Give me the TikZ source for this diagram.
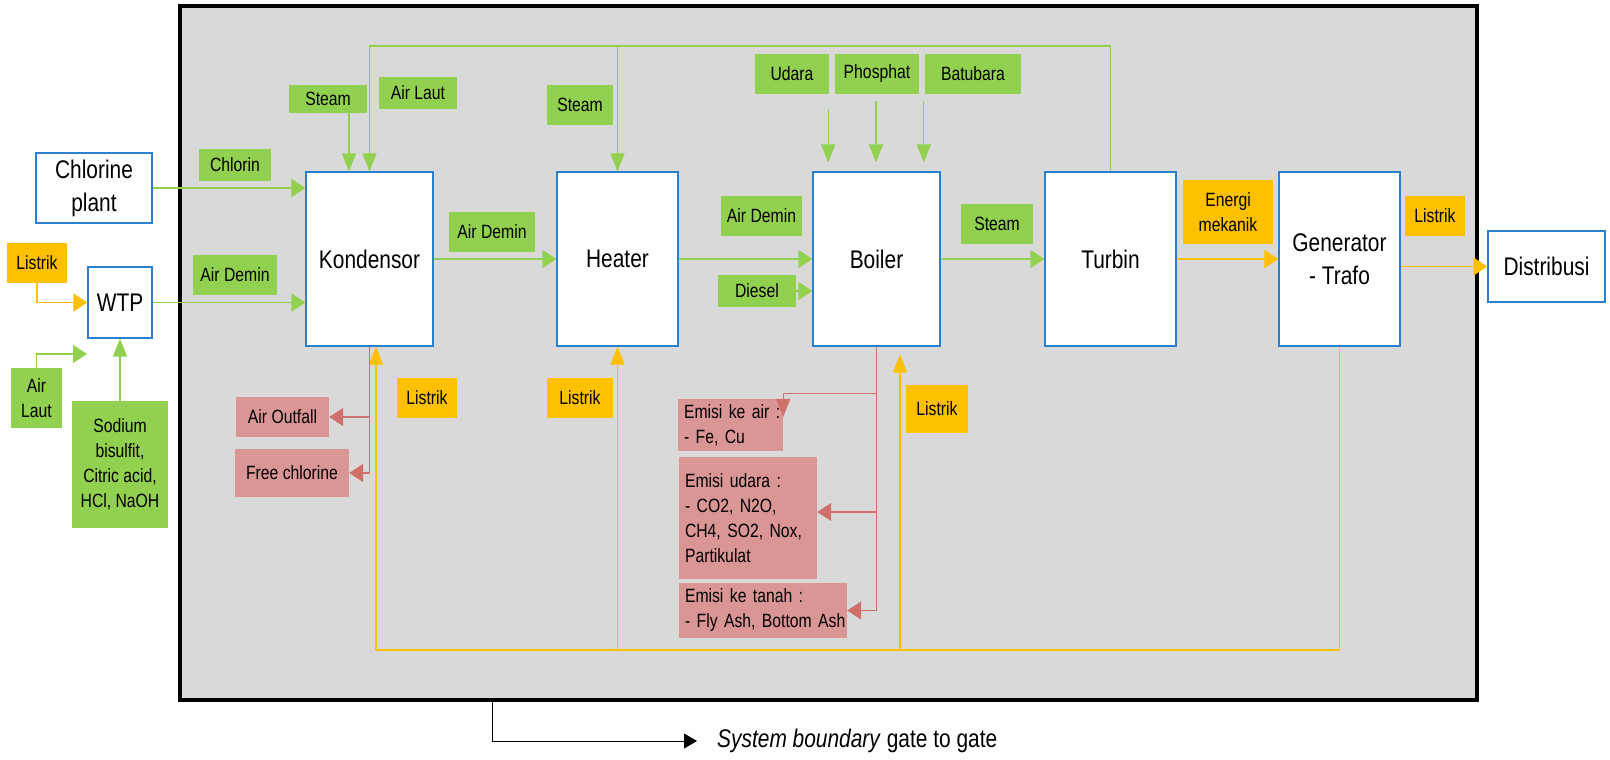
\documentclass[tikz,border=0pt]{standalone}
\usepackage{fontspec}
\setmainfont{Liberation Sans}[FakeStretch=0.82]
\usetikzlibrary{arrows.meta,calc}
\definecolor{gfill}{HTML}{92D050}
\definecolor{ofill}{HTML}{FFC000}
\definecolor{rfill}{HTML}{DA9694}
\definecolor{rline}{HTML}{D0706A}
\definecolor{bblue}{HTML}{2A80CC}
\definecolor{bgray}{HTML}{D9D9D9}
\begin{document}
\begin{tikzpicture}[x=1pt,y=-1pt,
  big/.style={font=\fontsize{25.5}{33}\selectfont},
  small/.style={font=\fontsize{19.2}{25}\selectfont},
  proc/.style={draw=bblue, fill=white, line width=1.2pt, inner sep=0pt, align=center, big},
  glab/.style={fill=gfill, inner sep=0pt, align=center, small},
  olab/.style={fill=ofill, inner sep=0pt, align=center, small},
  rlab/.style={fill=rfill, inner sep=0pt, align=center, small},
  elab/.style={fill=rfill, inner ysep=0pt, inner xsep=6pt, align=left, small},
  gl/.style={draw=gfill, line width=1.3pt},
  yl/.style={draw=ofill, line width=1.3pt},
  rl/.style={draw=rline, line width=1.3pt},
  harr/.style={-{Triangle[length=14pt,width=18pt]}},
  varr/.style={-{Triangle[length=18pt,width=14pt]}}
]
\useasboundingbox (0,0) rectangle (1610,760);
% system boundary
\draw[line width=3.5pt, fill=bgray] (180,6) rectangle (1477,700);

% process boxes
\node[proc, minimum width=116pt, minimum height=70pt] (chlor) at (94,188) {Chlorine\\plant};
\node[proc, minimum width=64pt, minimum height=71pt] (wtp) at (120,302.5) {WTP};
\node[proc, minimum width=127pt, minimum height=174pt] (kond) at (369.5,259) {Kondensor};
\node[proc, minimum width=121pt, minimum height=174pt] (heater) at (617.5,259) {Heater};
\node[proc, minimum width=127pt, minimum height=174pt] (boiler) at (876.5,259) {Boiler};
\node[proc, minimum width=131pt, minimum height=174pt] (turbin) at (1110.5,259) {Turbin};
\node[proc, minimum width=121pt, minimum height=174pt] (gen) at (1339.5,259) {Generator\\- Trafo};
\node[proc, minimum width=117pt, minimum height=71pt] (distribusi) at (1546.5,266.5) {Distribusi};

% green labels
\node[glab, minimum width=51pt, minimum height=60pt] (airlautL) at (36.5,398) {Air\\Laut};
\node[glab, minimum width=96pt, minimum height=127pt] (sodium) at (120,464.5) {Sodium\\bisulfit,\\Citric acid,\\HCl, NaOH};
\node[glab, minimum width=72pt, minimum height=32pt] (chlorin) at (235,165) {Chlorin};
\node[glab, minimum width=84pt, minimum height=40pt] (airdeminL) at (235,275) {Air Demin};
\node[glab, minimum width=78pt, minimum height=28pt] (steamK) at (328,99) {Steam};
\node[glab, minimum width=78pt, minimum height=32pt] (airlautT) at (418,93) {Air Laut};
\node[glab, minimum width=86pt, minimum height=40pt] (airdemin2) at (492,232) {Air Demin};
\node[glab, minimum width=66pt, minimum height=40pt] (steamH) at (580,105) {Steam};
\node[glab, minimum width=81pt, minimum height=40pt] (airdemin3) at (761.5,216) {Air Demin};
\node[glab, minimum width=78pt, minimum height=32pt] (diesel) at (757,291) {Diesel};
\node[glab, minimum width=74pt, minimum height=40pt] (udara) at (792,74) {Udara};
\node[glab, minimum width=84pt, minimum height=40pt] (phosphat) at (877,74) {Phosphat};
\node[glab, minimum width=96pt, minimum height=40pt] (batubara) at (973,74) {Batubara};
\node[glab, minimum width=72pt, minimum height=40pt] (steamB) at (997,224) {Steam};

% orange labels
\node[olab, minimum width=60pt, minimum height=40pt] (listrikL) at (37,263) {Listrik};
\node[olab, minimum width=90pt, minimum height=64pt] (energi) at (1228,212) {Energi\\mekanik};
\node[olab, minimum width=60pt, minimum height=40pt] (listrikR) at (1435,216) {Listrik};
\node[olab, minimum width=60pt, minimum height=40pt] (listrikK) at (427,398) {Listrik};
\node[olab, minimum width=66pt, minimum height=40pt] (listrikH) at (580,398) {Listrik};
\node[olab, minimum width=62pt, minimum height=48pt] (listrikB) at (937,409) {Listrik};

% red labels
\node[rlab, minimum width=93pt, minimum height=40pt] (airoutfall) at (282.5,417) {Air Outfall};
\node[rlab, minimum width=114pt, minimum height=48pt] (freechl) at (292,473) {Free chlorine};
\node[elab, text width=93pt, minimum height=52pt] (emair) at (730.5,425) {\mbox{Emisi ke air :}\\\mbox{- Fe, Cu}};
\node[elab, text width=126pt, minimum height=122pt] (emudara) at (748,518) {\mbox{Emisi udara :}\\\mbox{- CO2, N2O,}\\\mbox{CH4, SO2, Nox,}\\\mbox{Partikulat}};
\node[elab, text width=156pt, minimum height=55pt] (emtanah) at (763,610.5) {\mbox{Emisi ke tanah :}\\\mbox{- Fly Ash, Bottom Ash}};

% helper coordinates
\coordinate (top) at (0,46);
\coordinate (bot) at (0,650);
\path ([xshift=-20.5pt]kond.north) coordinate (kin);
\path ([yshift=9pt]boiler.north) coordinate (bt);
\path ([xshift=6.5pt]kond.south) coordinate (ky);
\path ([xshift=23.5pt,yshift=-8pt]boiler.south) coordinate (by);
\path ([yshift=6pt]emudara.east) coordinate (eu);
\path ([yshift=-18pt]emair.north east) coordinate (ea);
\coordinate (alin) at (87,354);

% green connectors
\draw[gl,varr] (turbin.north) |- (top -| kond.north) -- (kond.north);
\draw[gl,varr] (top -| heater.north) -- (heater.north);
\draw[gl,varr] (steamK.south -| kin) -- (kin);
\draw[gl,harr] (chlor.east) -- (chlor.east -| kond.west);
\draw[gl,harr] (wtp.east) -- (wtp.east -| kond.west);
\draw[gl,harr] (airlautL.north) |- (alin);
\draw[gl,varr] (sodium.north) -- (wtp.south);
\draw[gl,harr] (kond.east) -- (heater.west);
\draw[gl,harr] (heater.east) -- (boiler.west);
\draw[gl,harr] (diesel.east) -- (diesel.east -| boiler.west);
\draw[gl,varr] ([xshift=-1pt,yshift=-15pt]udara.south east) coordinate (ua) -- (ua |- bt);
\draw[gl,varr] ([xshift=-1pt,yshift=-7pt]phosphat.south) coordinate (pa) -- (pa |- bt);
\draw[gl,varr] ([xshift=-1pt,yshift=-7pt]batubara.south west) coordinate (ba) -- (ba |- bt);
\draw[gl,harr] (boiler.east) -- (turbin.west);

% yellow connectors
\draw[yl,harr] (listrikL.south) |- (wtp.west);
\draw[yl,harr] (turbin.east) -- (gen.west);
\draw[yl,harr] (distribusi.west -| gen.east) -- (distribusi.west);
\draw[yl] (gen.south) |- (bot -| ky);
\draw[yl,varr] (bot -| ky) -- (ky);
\draw[yl,varr] (bot -| heater.south) -- (heater.south);
\draw[yl,varr] (bot -| by) -- (by);

% red connectors
\draw[rl,harr] (kond.south) |- (freechl.east);
\draw[rl,harr] (kond.south |- airoutfall.east) -- (airoutfall.east);
\draw[rl,harr] (boiler.south) |- (emtanah.east);
\draw[rl,harr] (boiler.south |- eu) -- (eu);
\draw[rl,varr] ([yshift=-47pt]boiler.south) -| (ea);

% system boundary label
\coordinate (sb) at (492,700);
\node[anchor=west, inner xsep=20pt, inner ysep=0pt, big] (sbl) at (697,741) {\textit{System boundary} gate to gate};
\draw[line width=1pt, -{Triangle[length=13pt,width=15pt]}] (sb) |- (sbl.west);
\end{tikzpicture}
\end{document}
